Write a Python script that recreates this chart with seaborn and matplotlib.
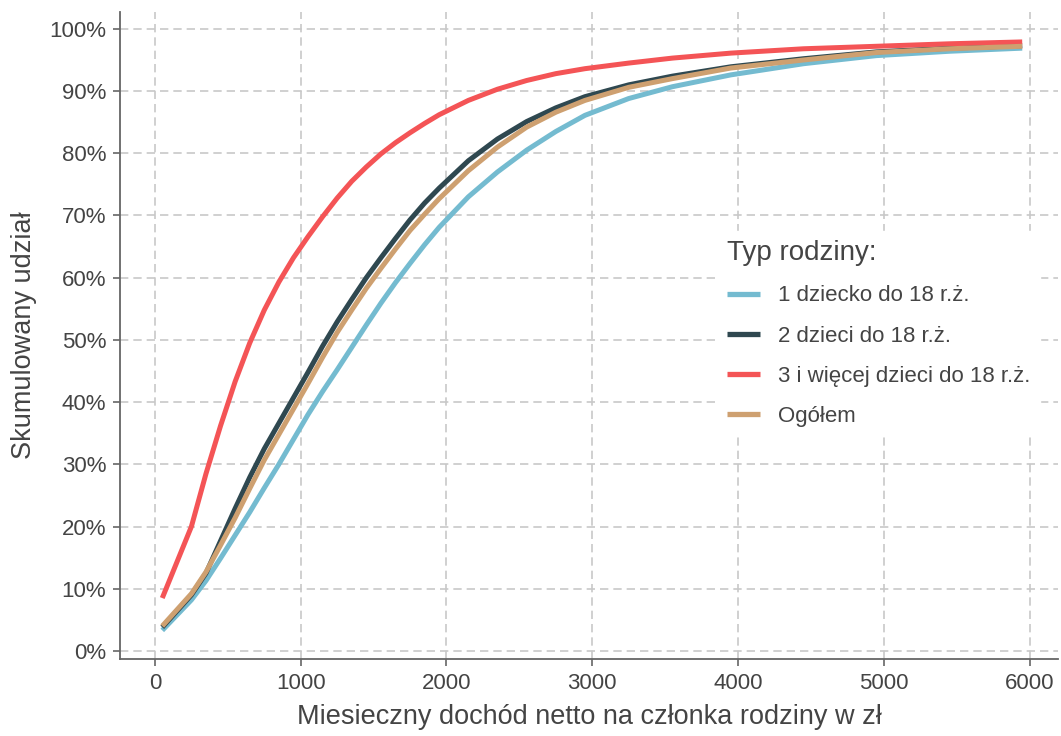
import numpy as np
import pandas as pd
import matplotlib.pyplot as plt
import seaborn as sns
from matplotlib.lines import Line2D

# income (zł per family member) at which the cumulated shares were read
dochod = [50, 250, 350, 450, 550, 650, 750, 850, 950, 1050, 1150, 1250, 1350, 1450,
          1550, 1650, 1750, 1850, 1950, 2150, 2350, 2550, 2750, 2950, 3250, 3550,
          3950, 4450, 4950, 5450, 5950]

jedno_dziecko = [3.3, 8.2, 11.3, 14.9, 18.6, 22.3, 26.2, 30.0, 34.0, 38.0, 41.7, 45.2,
                 48.8, 52.4, 55.9, 59.2, 62.3, 65.3, 68.1, 73.0, 77.0, 80.5, 83.5, 86.1,
                 88.8, 90.7, 92.6, 94.4, 95.7, 96.4, 96.9]
dwoje_dzieci = [3.8, 9.0, 12.5, 17.7, 22.9, 27.9, 32.5, 36.6, 40.7, 44.8, 49.0, 52.9,
                56.5, 60.0, 63.2, 66.3, 69.3, 72.0, 74.4, 78.8, 82.3, 85.1, 87.3, 89.1,
                91.0, 92.4, 93.9, 95.2, 96.3, 96.9, 97.3]
troje_i_wiecej = [8.5, 20.0, 28.5, 36.2, 43.3, 49.5, 54.8, 59.3, 63.2, 66.6, 69.8, 72.8,
                  75.5, 77.8, 79.9, 81.7, 83.3, 84.8, 86.2, 88.5, 90.3, 91.7, 92.8, 93.6,
                  94.5, 95.3, 96.1, 96.8, 97.2, 97.6, 97.9]
ogolem = [4.0, 9.2, 12.7, 17.0, 21.4, 26.1, 30.7, 34.8, 38.9, 43.0, 47.2, 51.2, 54.8,
          58.3, 61.5, 64.6, 67.6, 70.2, 72.7, 77.2, 81.0, 84.2, 86.6, 88.5, 90.6, 92.0,
          93.7, 95.0, 96.2, 96.8, 97.2]

grupy = ["1 dziecko do 18 r.ż.", "2 dzieci do 18 r.ż.", "3 i więcej dzieci do 18 r.ż.", "Ogółem"]
kolory = ["#74BBD0", "#2F4850", "#F45456", "#CEA070"]

frames = []
for nazwa, vals in zip(grupy, [jedno_dziecko, dwoje_dzieci, troje_i_wiecej, ogolem]):
    frames.append(pd.DataFrame({"dochod": dochod, "udzial": np.array(vals) / 100, "typ": nazwa}))
df = pd.concat(frames, ignore_index=True)

sns.set_theme(style="white")
plt.rcParams['font.family'] = ['Liberation Sans', 'DejaVu Sans']

fig = plt.figure(figsize=(10.61, 7.36), dpi=100)
ax = fig.add_axes([0.1131, 0.1046, 0.884, 0.879])

sns.lineplot(data=df, x="dochod", y="udzial", hue="typ", hue_order=grupy,
             palette=kolory, linewidth=3.6, ax=ax, legend=False,
             solid_capstyle="butt", solid_joinstyle="round", zorder=3)

ax.set_xlim(-240, 6195)
ax.set_ylim(-0.013, 1.027)
ax.set_xticks(range(0, 7000, 1000))
ax.set_yticks(np.arange(0, 1.01, 0.1))
ax.set_yticklabels([f"{int(round(v * 100))}%" for v in np.arange(0, 1.01, 0.1)])

ax.grid(True, color="#C8C8C8", linestyle=(0, (5, 3)), linewidth=1.2, zorder=0)
ax.set_axisbelow(True)
for s in ["top", "right"]:
    ax.spines[s].set_visible(False)
for s in ["left", "bottom"]:
    ax.spines[s].set_color("#666666")
    ax.spines[s].set_linewidth(1.3)
ax.tick_params(axis="both", which="major", length=5, width=1.2, color="#666666",
               labelsize=16, labelcolor="#444444", bottom=True, left=True, pad=5)

ax.set_xlabel("Miesieczny dochód netto na członka rodziny w zł", fontsize=19.5, color="#444444", labelpad=7)
ax.set_ylabel("Skumulowany udział", fontsize=19.5, color="#444444", labelpad=9)

uchwyty = [Line2D([0], [0], color=c, linewidth=3.8, solid_capstyle="butt") for c in kolory]
leg = ax.legend(uchwyty, grupy, title="Typ rodziny:", loc="upper left",
                bbox_to_anchor=(0.626, 0.678), frameon=True, fontsize=16,
                title_fontsize=20, handlelength=1.5, handletextpad=0.8,
                labelspacing=0.86, borderpad=0.4, alignment="left")
leg.get_frame().set_facecolor("white")
leg.get_frame().set_edgecolor("white")
leg.get_frame().set_alpha(1)
leg.get_title().set_color("#444444")
for t in leg.get_texts():
    t.set_color("#444444")

fig.savefig("out.png", dpi=100)
